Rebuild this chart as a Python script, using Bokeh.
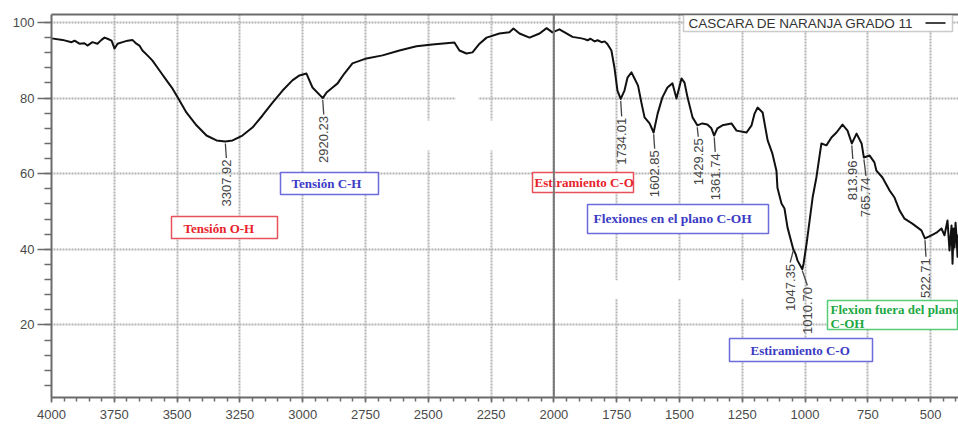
import numpy as np
from bokeh.plotting import figure
from bokeh.models import Range1d, FixedTicker, LinearAxis, Span, BoxAnnotation, Label
from bokeh.core.properties import value
from bokeh.embed import file_html
from bokeh.resources import INLINE

# ---------------- data ----------------
wavenumber = [4000, 3956, 3920, 3908, 3889, 3869, 3857, 3837, 3817, 3801, 3789, 3777, 3761, 3749,
              3737, 3717, 3697, 3678, 3662, 3650, 3638, 3618, 3598, 3570, 3542, 3518, 3491, 3463,
              3423, 3383, 3343, 3308, 3279, 3240, 3200, 3160, 3120, 3080, 3041, 3013, 2985, 2961,
              2920, 2905, 2881, 2861, 2853, 2834, 2802, 2746, 2682, 2615, 2547, 2484, 2396, 2376,
              2348, 2324, 2296, 2268, 2217, 2177, 2161, 2137, 2097, 2057, 2029, 2006, 1978, 1950,
              1926, 1890, 1878, 1866, 1854, 1838, 1826, 1810, 1798, 1787, 1771, 1759, 1747, 1734,
              1719, 1707, 1691, 1679, 1665, 1651, 1639, 1619, 1603, 1587, 1568, 1548, 1528, 1512,
              1492, 1480, 1468, 1448, 1429, 1409, 1389, 1373, 1362, 1349, 1329, 1293, 1273, 1233,
              1213, 1201, 1189, 1169, 1149, 1130, 1114, 1110, 1094, 1082, 1070, 1047, 1038, 1030,
              1011, 1006, 994, 982, 970, 955, 951, 935, 915, 895, 875, 851, 831, 814, 795, 775,
              766, 743, 724, 716, 692, 664, 644, 624, 604, 573, 537, 523, 497, 477, 457, 445, 433,
              425, 417, 413, 409, 405, 401, 397, 393, 389]
transmittance = [95.8, 95.4, 94.8, 95.2, 94.4, 94.5, 93.9, 94.8, 94.4, 95.4, 96.0, 95.7, 95.2, 93.1,
                 94.4, 94.8, 95.2, 95.4, 94.4, 93.9, 92.6, 91.3, 89.9, 87.3, 84.7, 82.5, 79.4, 76.2,
                 72.8, 70.1, 68.8, 68.5, 68.8, 70.1, 72.2, 75.4, 78.8, 82.0, 84.7, 86.0, 86.5, 82.8,
                 80.0, 81.5, 82.8, 83.9, 84.7, 86.5, 89.2, 90.5, 91.3, 92.6, 93.7, 94.2, 94.7, 92.6,
                 91.8, 92.1, 94.4, 96.0, 97.1, 97.4, 98.4, 97.1, 96.0, 97.1, 98.5, 97.4, 98.2, 97.1,
                 96.2, 95.8, 95.6, 95.3, 95.7, 95.0, 95.3, 94.8, 95.0, 94.3, 92.6, 88.1, 82.0, 79.8,
                 82.0, 85.4, 86.8, 85.2, 83.3, 78.6, 74.9, 73.3, 70.9, 75.9, 80.2, 82.8, 83.9, 79.9,
                 85.2, 84.1, 80.2, 74.9, 72.8, 73.3, 73.0, 72.0, 70.1, 72.0, 72.8, 73.3, 71.4, 70.9,
                 72.8, 75.9, 77.5, 76.2, 68.8, 65.3, 60.8, 56.3, 52.1, 50.8, 45.8, 40.0, 38.8, 37.0,
                 34.7, 36.2, 41.5, 47.6, 53.7, 59.0, 60.8, 68.0, 67.5, 69.6, 70.9, 73.0, 71.4, 68.0,
                 70.6, 68.0, 64.3, 64.8, 63.0, 60.8, 59.0, 55.6, 53.7, 50.3, 48.1, 46.8, 45.0, 42.9,
                 43.7, 44.4, 45.5, 43.7, 47.6, 39.7, 46.3, 36.2, 45.5, 40.5, 47.0, 43.1, 38.0, 44.0]

peak_wavenumbers = [3307.92, 2920.23, 1734.01, 1602.85, 1429.25, 1361.74, 1047.35, 1010.70,
                    813.96, 765.74, 522.71]
peak_texts = ["3307.92", "2920.23", "1734.01", "1602.85", "1429.25", "1361.74", "1047.35",
              "1010.70", "813.96", "765.74", "522.71"]

series_name = "CASCARA DE NARANJA GRADO 11"
x_major = list(range(500, 4001, 250))
x_minor = list(range(400, 4001, 50))
y_major = [20, 40, 60, 80, 100]
y_minor = list(range(4, 101, 4))

note_texts = ["Tensión O-H", "Tensión C-H", "Estiramiento C-O", "Flexiones en el plano C-OH",
              "Estiramiento C-O", "Flexion fuera del plano", "C-OH"]

# ---------------- layout ----------------
W, H = 958, 432
FL, FT, FB = 51, 14, 397
X0 = 4000.0
X1 = 4000.0 - (W - FL) * 3.981
Y1 = 100 + 8 / 3.78
Y0 = 100 - (FB - 22) / 3.78
PXX = (X0 - X1) / (W - FL)
PXY = (Y1 - Y0) / (FB - FT)


def xd(px):
    return X0 - (px - FL) * PXX


def yd(py):
    return Y1 - (py - FT) * PXY


AX = "#6b6b6b"
LBL = "#4a4a4a"

p = figure(width=W, height=H, output_backend="svg", toolbar_location=None,
           x_range=Range1d(X0, X1), y_range=Range1d(Y0, Y1),
           min_border_left=FL, min_border_right=0, min_border_top=FT,
           min_border_bottom=H - FB)
p.outline_line_color = None
p.background_fill_color = "white"
p.border_fill_color = "white"

xtick = FixedTicker(ticks=x_major, minor_ticks=x_minor)
ytick = FixedTicker(ticks=y_major, minor_ticks=y_minor)
xa = p.xaxis[0]
xa.ticker = xtick
ya = p.yaxis[0]
ya.ticker = ytick
for a in (xa, ya):
    a.axis_line_color = AX
    a.axis_line_width = 2
    a.major_tick_line_color = AX
    a.minor_tick_line_color = AX
    a.major_tick_line_width = 1.5
    a.minor_tick_line_width = 1.5
    a.major_tick_in = 0
    a.minor_tick_in = 0
    a.major_label_text_font = "Liberation Sans"
    a.major_label_text_font_size = "13px"
    a.major_label_text_color = LBL
xa.major_tick_out = 5
xa.minor_tick_out = 4
xa.major_label_standoff = 7
ya.major_tick_out = 14
ya.minor_tick_out = 7
ya.major_label_standoff = 3

top = LinearAxis(ticker=FixedTicker(ticks=[]), axis_line_color=AX, axis_line_width=2,
                 major_tick_line_color=None, minor_tick_line_color=None,
                 major_label_text_font_size="0px")
p.add_layout(top, "above")

p.xgrid[0].ticker = xtick
p.ygrid[0].ticker = ytick
for g in (p.xgrid[0], p.ygrid[0]):
    g.grid_line_color = "#b4b4b4"
    g.grid_line_alpha = 1.0
    g.grid_line_dash = "2 1"
    g.grid_line_width = 2

# erased patches of the original picture
for l, r, t, b in [(420, 500, 120, 150), (455, 478, 67, 120), (608, 765, 280, 298)]:
    p.add_layout(BoxAnnotation(left=xd(l), right=xd(r), top=yd(t), bottom=yd(b),
                               fill_color="white", fill_alpha=1, line_color=None))

# spectrum
p.line(wavenumber, transmittance, line_color="#111111", line_width=2, line_join="round")

# peak labels
wn_inc = np.array(wavenumber[::-1], dtype=float)
t_inc = np.array(transmittance[::-1], dtype=float)
yc = np.interp(peak_wavenumbers, wn_inc, t_inc)
drops = [18, 18, 19, 18, 13, 18, 15, 18, 17, 20, 20]
shifts = [1, 1, 1, 1, 1, 1, -3, 5, 1, 2, 1]
tx = [w - s * PXX for w, s in zip(peak_wavenumbers, shifts)]
ty = [c - d * PXY for c, d in zip(yc, drops)]
p.segment(x0=peak_wavenumbers, y0=[c - 2 * PXY for c in yc], x1=tx, y1=[t + 1.5 * PXY for t in ty],
          line_color="#444444", line_width=1.3)
p.text(x=tx, y=ty, text=peak_texts, angle=np.pi / 2, text_align="right", text_baseline="middle",
       text_font=value("Liberation Sans"), text_font_size="13px", text_color="#444444")

# annotation boxes
RED, RED_B = "#e8232b", "#e8505a"
BLUE, BLUE_B = "#3b3bc4", "#6b6bdc"
GREEN, GREEN_B = "#22a844", "#55cc77"
boxes = [(171, 277, 216, 238, RED_B), (280, 378, 172, 194, BLUE_B), (532, 633, 172, 192, RED_B),
         (587, 768, 204, 233, BLUE_B), (729, 872, 338, 361, BLUE_B), (827, 957, 300, 329, GREEN_B)]
for l, r, t, b, c in boxes:
    p.add_layout(BoxAnnotation(left=xd(l), right=xd(r), top=yd(t), bottom=yd(b),
                               fill_color="white", fill_alpha=1, line_color=c, line_width=1.5,
                               line_alpha=1))
notes = [(183, 228, RED, 13), (291, 183, BLUE, 13), (534, 182, RED, 13), (593, 218, BLUE, 13.5),
         (750, 350, BLUE, 13), (830, 309, GREEN, 13), (830, 323, GREEN, 13)]
for txt, (px, py, c, fs) in zip(note_texts, notes):
    p.add_layout(Label(x=xd(px), y=yd(py), text=txt, text_font="Liberation Serif",
                       text_font_style="bold", text_font_size=f"{fs}px", text_color=c,
                       text_baseline="middle", text_align="left"))

# solid marker line at 2000
p.add_layout(Span(location=2000, dimension="height", line_color="#777777", line_width=2))

# legend box
p.add_layout(BoxAnnotation(left=xd(683), right=xd(952), top=yd(14.5), bottom=yd(31),
                           fill_color="white", fill_alpha=1, line_color="#555555", line_width=1.5))
p.add_layout(Label(x=xd(688), y=yd(22.5), text=series_name, text_font="Liberation Sans",
                   text_font_size="13.5px", text_color="#333333", text_baseline="middle"))
p.add_layout(BoxAnnotation(left=xd(925), right=xd(945), top=yd(21.5), bottom=yd(23.5),
                           fill_color="#444444", fill_alpha=1, line_color=None))

# axis captions
p.add_layout(Label(x=xd(13), y=yd(62), text="%T", text_font="Liberation Sans",
                   text_font_size="13px", text_color=LBL, text_baseline="middle"))
p.add_layout(Label(x=xd(925), y=yd(430), text="cm-1", text_font="Liberation Sans",
                   text_font_size="12px", text_color=LBL, text_baseline="bottom"))

open("out.html", "w").write(file_html(p, INLINE))
